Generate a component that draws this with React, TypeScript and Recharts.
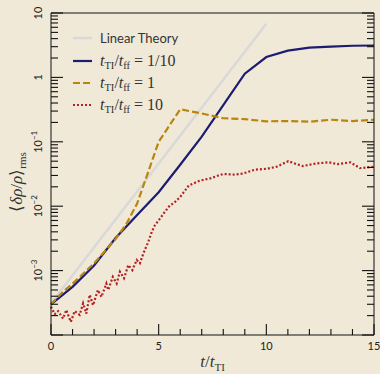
import { LineChart, Line, XAxis, YAxis, Legend, Label } from 'recharts'

const BG = '#f0e9d8'

const xMajor = [0, 5, 10, 15]
const xTicks = [0, 1, 2, 3, 4, 5, 6, 7, 8, 9, 10, 11, 12, 13, 14, 15]
const yTicks = [
	1e-4, 2e-4, 3e-4, 4e-4, 5e-4, 6e-4, 7e-4, 8e-4, 9e-4,
	1e-3, 2e-3, 3e-3, 4e-3, 5e-3, 6e-3, 7e-3, 8e-3, 9e-3,
	1e-2, 2e-2, 3e-2, 4e-2, 5e-2, 6e-2, 7e-2, 8e-2, 9e-2,
	0.1, 0.2, 0.3, 0.4, 0.5, 0.6, 0.7, 0.8, 0.9,
	1, 2, 3, 4, 5, 6, 7, 8, 9, 10,
]
const yLabels: Record<string, string> = { '-3': '−3', '-2': '−2', '-1': '−1' }

// linear theory
const linT = [0, 5, 10]
const linV = [3.1e-4, 0.046, 6.8]

// t_TI/t_ff = 1/10
const fastT = [0, 1, 2, 3, 4, 5, 6, 7, 8, 9, 10, 11, 12, 13, 14, 15]
const fastV = [3.0e-4, 5.6e-4, 1.2e-3, 3.2e-3, 7.3e-3, 0.0165, 0.044, 0.12, 0.37, 1.14, 2.07, 2.6, 2.9, 3.0, 3.1, 3.13]

// t_TI/t_ff = 1
const midT = [0, 0.5, 1, 1.5, 2, 2.5, 3, 3.5, 4, 4.5, 5, 6, 7, 8, 9, 10, 11, 12, 13, 14, 15]
const midV = [3.0e-4, 4.5e-4, 6.3e-4, 9e-4, 1.3e-3, 2e-3, 3.1e-3, 5.3e-3, 0.011, 0.033, 0.1, 0.32, 0.275, 0.232, 0.225, 0.208, 0.21, 0.205, 0.22, 0.21, 0.22]

// t_TI/t_ff = 10
const slowT = [
	0, 0.17, 0.33, 0.56, 0.71, 0.92, 1.1, 1.33, 1.49, 1.64, 1.8, 1.95, 2.18, 2.34, 2.57, 2.66, 2.87,
	3.05, 3.2, 3.39, 3.59, 3.78, 3.98, 4.13, 4.29, 4.52, 4.68, 4.83, 5.06, 5.29, 5.53, 5.68, 6.0,
	6.4, 6.92, 7.4, 7.77, 8.0, 8.5, 8.9, 9.47, 10.0, 10.48, 11.02, 11.4, 11.7, 12.3, 12.9, 13.3,
	13.9, 14.35, 15,
]
const slowV = [
	2.75e-4, 2.1e-4, 2.35e-4, 1.8e-4, 2.45e-4, 1.6e-4, 2.35e-4, 2.05e-4, 3.1e-4, 2.15e-4, 4.2e-4,
	2.9e-4, 5.0e-4, 3.9e-4, 6.3e-4, 5.0e-4, 8.0e-4, 6.3e-4, 9.6e-4, 7.6e-4, 1.22e-3, 1.02e-3,
	1.46e-3, 1.3e-3, 1.85e-3, 2.8e-3, 4.0e-3, 5.1e-3, 6.4e-3, 8.2e-3, 0.0104, 0.011, 0.0139,
	0.021, 0.025, 0.027, 0.03, 0.0316, 0.031, 0.032, 0.037, 0.038, 0.041, 0.05, 0.045, 0.042,
	0.046, 0.048, 0.045, 0.048, 0.039, 0.041,
]

const pts = (t: number[], v: number[]) => t.map((x, i) => ({ t: x, v: v[i] }))

const sans = 'Lato, "DejaVu Sans", sans-serif'
const serif = '"Liberation Serif", serif'

const isMajorY = (v: number) => Math.abs(Math.log10(v) - Math.round(Math.log10(v))) < 1e-6

function BottomTick({ x, y, payload }: any) {
	const major = xMajor.includes(payload.value)
	return (
		<g>
			<line x1={x} x2={x} y1={y} y2={y - (major ? 11 : 6)} stroke="#111" strokeWidth={1.1} />
			{major && (
				<text x={x} y={y + 15} textAnchor="middle" fontSize={11} fontFamily={sans} fill="#222">
					{payload.value}
				</text>
			)}
		</g>
	)
}

function TopTick({ x, y, payload }: any) {
	const major = xMajor.includes(payload.value)
	return <line x1={x} x2={x} y1={y} y2={y + (major ? 11 : 6)} stroke="#111" strokeWidth={1.1} />
}

function LeftTick({ x, y, payload }: any) {
	const major = isMajorY(payload.value)
	const e = Math.round(Math.log10(payload.value))
	return (
		<g>
			<line x1={x} x2={x + (major ? 12 : 7)} y1={y} y2={y} stroke="#111" strokeWidth={1.1} />
			{major && e > -4 && (
				<text
					transform={`translate(${x - 9},${y}) rotate(-90)`}
					textAnchor="middle"
					fontSize={11}
					fontFamily={sans}
					fill="#222"
				>
					{e === 0 ? '1' : '10'}
					{e < 0 && (
						<tspan fontSize={8} dy={-5}>
							{yLabels[String(e)]}
						</tspan>
					)}
				</text>
			)}
		</g>
	)
}

function RightTick({ x, y, payload }: any) {
	const major = isMajorY(payload.value)
	return <line x1={x} x2={x - (major ? 12 : 7)} y1={y} y2={y} stroke="#111" strokeWidth={1.1} />
}

function MathRatio({ x, y, rhs }: { x: number; y: number; rhs: string }) {
	return (
		<text x={x} y={y} fontSize={16} fontFamily={serif} fill="#333">
			<tspan fontStyle="italic">t</tspan>
			<tspan fontSize={10.5} dy={3}>TI</tspan>
			<tspan dy={-3}>/</tspan>
			<tspan fontStyle="italic">t</tspan>
			<tspan fontSize={10.5} dy={3}>ff</tspan>
			<tspan dy={-3}>{` = ${rhs}`}</tspan>
		</text>
	)
}

function LegendBox() {
	return (
		<svg width={140} height={90} style={{ display: 'block' }}>
			<line x1={2} x2={21} y1={11} y2={11} stroke="#d9d9d9" strokeWidth={2.5} />
			<text x={29} y={15.5} fontSize={13} fontFamily={sans} fill="#333">Linear Theory</text>
			<line x1={2} x2={21} y1={34} y2={34} stroke="#1c1c72" strokeWidth={2.2} />
			<MathRatio x={29} y={38.5} rhs="1/10" />
			<line x1={2} x2={21} y1={56} y2={56} stroke="#b8860b" strokeWidth={2.2} strokeDasharray="7 3" />
			<MathRatio x={29} y={60.5} rhs="1" />
			<line x1={2} x2={21} y1={78} y2={78} stroke="#b22222" strokeWidth={2.2} strokeDasharray="2 2" />
			<MathRatio x={29} y={82.5} rhs="10" />
		</svg>
	)
}

function YTitle({ viewBox }: any) {
	const cy = viewBox.y + viewBox.height / 2 + 8
	return (
		<text transform={`translate(22,${cy}) rotate(-90)`} textAnchor="middle" fontSize={17} fontFamily={serif} fill="#333">
			⟨<tspan fontStyle="italic">δρ</tspan>/<tspan fontStyle="italic">ρ</tspan>⟩
			<tspan fontSize={11} dy={4}>rms</tspan>
		</text>
	)
}

function XTitle({ viewBox }: any) {
	const cx = viewBox.x + viewBox.width / 2
	return (
		<text x={cx} y={viewBox.y + 32} textAnchor="middle" fontSize={17} fontFamily={serif} fill="#333">
			<tspan fontStyle="italic">t</tspan>/<tspan fontStyle="italic">t</tspan>
			<tspan fontSize={11} dy={4}>TI</tspan>
		</text>
	)
}

export default function App() {
	return (
		<div style={{ position: 'fixed', left: 0, top: 0, width: 380, height: 374, background: BG }}>
			<LineChart width={380} height={374} margin={{ top: 12, right: 5, bottom: 38, left: 50 }}>
				<XAxis
					xAxisId="b"
					dataKey="t"
					type="number"
					domain={[0, 15]}
					ticks={xTicks}
					interval={0}
					height={1}
					tickSize={0}
					tickMargin={0}
					stroke="#111"
					tick={<BottomTick />}
				>
					<Label content={<XTitle />} />
				</XAxis>
				<XAxis
					xAxisId="t"
					orientation="top"
					dataKey="t"
					type="number"
					domain={[0, 15]}
					ticks={xTicks}
					interval={0}
					height={1}
					tickSize={0}
					tickMargin={0}
					stroke="#111"
					tick={<TopTick />}
				/>
				<YAxis
					yAxisId="l"
					dataKey="v"
					scale="log"
					type="number"
					domain={[1e-4, 10]}
					allowDataOverflow
					ticks={yTicks}
					interval={0}
					width={1}
					tickSize={0}
					tickMargin={0}
					stroke="#111"
					tick={<LeftTick />}
				>
					<Label content={<YTitle />} />
				</YAxis>
				<YAxis
					yAxisId="r"
					orientation="right"
					dataKey="v"
					scale="log"
					type="number"
					domain={[1e-4, 10]}
					allowDataOverflow
					ticks={yTicks}
					interval={0}
					width={1}
					tickSize={0}
					tickMargin={0}
					stroke="#111"
					tick={<RightTick />}
				/>
				<Legend
					layout="horizontal"
					verticalAlign="middle"
					align="center"
					content={<LegendBox />}
					wrapperStyle={{ position: 'absolute', left: 71, top: 27, width: 140, height: 90 }}
				/>
				<Line xAxisId="b" yAxisId="l" data={pts(linT, linV)} dataKey="v" stroke="#d9d9d9" strokeWidth={2.5} dot={false} isAnimationActive={false} />
				<Line xAxisId="b" yAxisId="l" data={pts(fastT, fastV)} dataKey="v" stroke="#1c1c72" strokeWidth={2.2} dot={false} isAnimationActive={false} />
				<Line xAxisId="b" yAxisId="l" data={pts(midT, midV)} dataKey="v" stroke="#b8860b" strokeWidth={2.2} strokeDasharray="7 3" dot={false} isAnimationActive={false} />
				<Line xAxisId="b" yAxisId="l" data={pts(slowT, slowV)} dataKey="v" stroke="#b22222" strokeWidth={2.2} strokeDasharray="2 2" dot={false} isAnimationActive={false} />
			</LineChart>
		</div>
	)
}
